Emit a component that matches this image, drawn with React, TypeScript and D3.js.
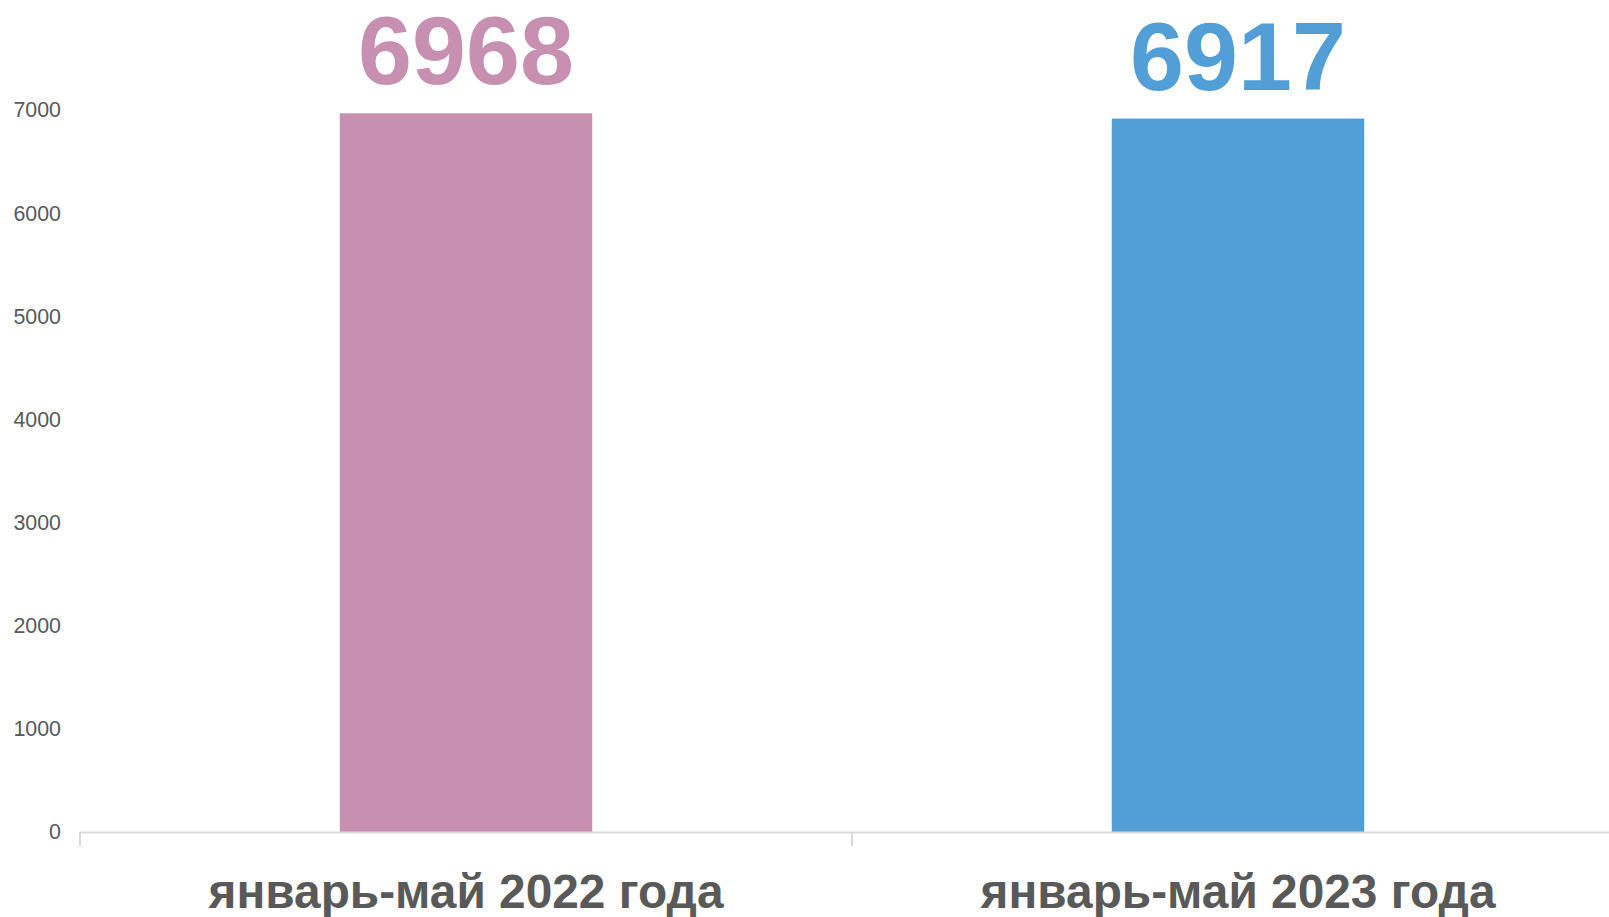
import React from "react";
import * as d3 from "d3";

const categories = ["январь-май 2022 года", "январь-май 2023 года"];
const values = [6968, 6917];
const colors = ["#C78FB0", "#529FD7"];
const yTicks = [0, 1000, 2000, 3000, 4000, 5000, 6000, 7000];

const W = 1609;
const H = 917;
const left = 80;
const right = 1624;
const top = 110;
const bottom = 832;

export default function App() {
  const x = d3.scaleBand<string>().domain(categories).range([left, right]).paddingInner(0).paddingOuter(0);
  const y = d3.scaleLinear().domain([0, 7000]).range([bottom, top]);
  const bw = x.bandwidth() * 0.327;
  const font = "'Liberation Sans', Arial, sans-serif";
  return (
    <svg width={W} height={H} style={{ position: "absolute", left: 0, top: 0, background: "#fff" }}>
      {yTicks.map((t) => (
        <text key={t} x={61} y={y(t)} dy="0.35em" textAnchor="end" fontSize={21.4} fill="#595959" fontFamily={font}>
          {t}
        </text>
      ))}
      {categories.map((c, i) => {
        const cx = (x(c) as number) + x.bandwidth() / 2;
        return (
          <g key={c}>
            <rect x={cx - bw / 2} y={y(values[i])} width={bw} height={bottom - y(values[i])} fill={colors[i]} />
            <text x={cx} y={y(values[i]) - 29} textAnchor="middle" fontSize={97} fontWeight="bold" fill={colors[i]} fontFamily={font}>
              {values[i]}
            </text>
            <text x={cx} y={908} textAnchor="middle" fontSize={47.8} fontWeight="bold" fill="#595959" fontFamily={font}>
              {c}
            </text>
          </g>
        );
      })}
      <line x1={left} x2={W} y1={bottom + 0.5} y2={bottom + 0.5} stroke="#D9D9D9" strokeWidth={2} />
      {[left, (x(categories[1]) as number)].map((tx, i) => (
        <line key={i} x1={tx} x2={tx} y1={bottom} y2={bottom + 14} stroke="#D9D9D9" strokeWidth={2} />
      ))}
    </svg>
  );
}
